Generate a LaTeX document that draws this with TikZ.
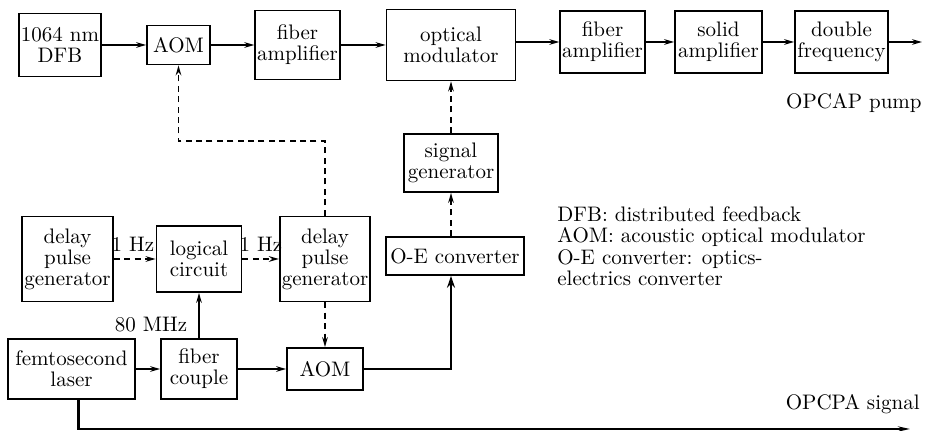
\documentclass[tikz,border=0pt]{standalone}
\usetikzlibrary{arrows.meta}

\begin{document}
\begin{tikzpicture}[x=0.5pt,y=-0.5pt,
  font=\fontsize{10.5}{10.5}\selectfont,
  box/.style={draw,line width=0.85pt,align=center,inner sep=1pt},
  link/.style={line width=0.8pt,-{Stealth[length=5pt,width=2.8pt]}},
  dlink/.style={link,dash pattern=on 3pt off 2.2pt},
  heavy/.style={line width=1.2pt,-{Stealth[length=6pt,width=4pt]}},
  long/.style={line width=1.1pt,-{Stealth[length=6pt,width=2.6pt]}}]

\useasboundingbox (0,0) rectangle (926,431);

\node[box,minimum width=41pt,minimum height=31.5pt] (dfb) at (60,45) {1064 nm\\DFB};
\node[box,minimum width=31.5pt,minimum height=19.5pt] (aomtop) at (178.5,45) {AOM};
\node[box,minimum width=41.5pt,minimum height=34.5pt] (fibA) at (297.5,45) {fiber\\amplifier};
\node[box,minimum width=64.5pt,minimum height=35.5pt] (optmod) at (451,45) {optical\\modulator};
\node[box,minimum width=41.5pt,minimum height=31pt] (fibB) at (602.5,42) {fiber\\amplifier};
\node[box,minimum width=43.5pt,minimum height=31pt] (solid) at (718.5,42) {solid\\amplifier};
\node[box,minimum width=46.5pt,minimum height=31pt] (dblf) at (841.5,42) {double\\frequency};
\coordinate (pumpend) at (922,42);
\node[anchor=east,inner sep=0pt] (pumplbl) at (922,103) {OPCAP pump};

\node[box,minimum width=47pt,minimum height=29pt] (siggen) at (451,163) {signal\\generator};
\node[box,minimum width=69pt,minimum height=19pt] (oec) at (455,256) {O-E converter};

\node[box,minimum width=45.5pt,minimum height=42.5pt] (dpgA) at (67.5,259) {delay\\pulse\\generator};
\node[box,minimum width=42.5pt,minimum height=33pt] (logic) at (199,259) {logical\\circuit};
\node[box,minimum width=45pt,minimum height=42.5pt] (dpgB) at (325,259) {delay\\pulse\\generator};
\node (hzA) at (133,244) {1 Hz};
\node (hzB) at (261,244) {1 Hz};
\coordinate (bend) at (250,141);

\node[box,minimum width=63.5pt,minimum height=30pt] (femto) at (71.5,369) {femtosecond\\laser};
\node[box,minimum width=38pt,minimum height=30pt] (fcouple) at (199,369) {fiber\\couple};
\node[box,minimum width=38pt,minimum height=21pt] (aombot) at (325,369) {AOM};
\node (mhz) at (151,325) {80 MHz};
\coordinate (sigend) at (910,429);
\node[anchor=east,inner sep=0pt] (siglbl) at (920,404) {OPCPA signal};

\node[align=left,anchor=north west,inner sep=0pt,
  font=\fontsize{10.5}{10.8}\selectfont] (legend) at (557,206)
  {DFB: distributed feedback\\AOM: acoustic optical modulator\\O-E converter: optics-\\electrics converter};

\draw[link] (dfb) -- (aomtop);
\draw[link] (aomtop) -- (fibA);
\draw[link] (fibA) -- (optmod);
\draw[link] (optmod.east |- fibB) -- (fibB);
\draw[link] (fibB) -- (solid);
\draw[link] (solid) -- (dblf);
\draw[link] (dblf) -- (pumpend);

\draw[dlink] (siggen) -- (optmod);
\draw[dlink] (siggen |- oec.north) -- (siggen);
\draw[heavy] (aombot.east) -| (siggen |- oec.south);

\draw[dlink] (dpgA) -- (logic);
\draw[dlink] (logic) -- (dpgB);
\draw[dlink] (dpgB) -- (aombot);
\draw[dlink] (dpgB.north) |- (bend) -| (aomtop.south);

\draw[link] (femto) -- (fcouple);
\draw[link] (fcouple) -- (aombot);
\draw[link] (fcouple) -- (logic);
\draw[long] ([xshift=3.5pt]femto.south) |- (sigend);

\end{tikzpicture}
\end{document}
